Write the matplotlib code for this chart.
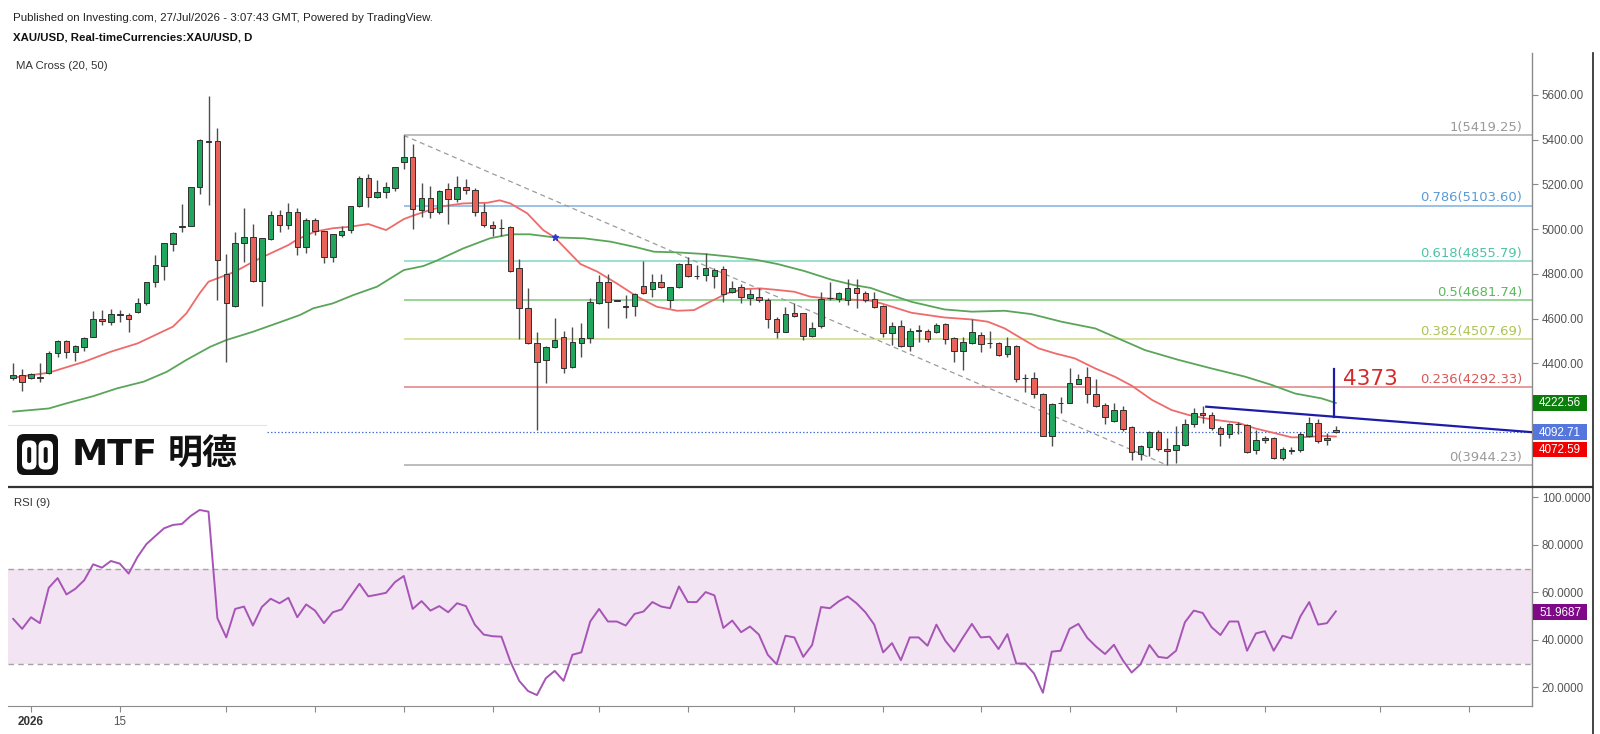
import numpy as np
import matplotlib
matplotlib.use('Agg')
import matplotlib.pyplot as plt
from matplotlib.patches import Rectangle, FancyBboxPatch

# ---------------- data (daily XAU/USD candles, 30 Dec 2025 .. 27 Jul 2026) ----------------
opens = [4333, 4347, 4333, 4338, 4355, 4447, 4501, 4452, 4474, 4519,
         4596, 4586, 4619, 4616, 4629, 4668, 4765, 4837, 4933, 5008,
         5014, 5190, 5396, 5393, 4799, 4656, 4936, 4966, 4769, 4957,
         5063, 5018, 5077, 4918, 5041, 4993, 4877, 4974, 4996, 5103,
         5227, 5145, 5167, 5182, 5300, 5324, 5085, 5138, 5078, 5179,
         5135, 5190, 5175, 5078, 5018, 5006, 5008, 4825, 4649, 4492,
         4414, 4474, 4516, 4385, 4492, 4511, 4671, 4762, 4680, 4656,
         4657, 4747, 4731, 4765, 4683, 4743, 4844, 4790, 4795, 4792,
         4820, 4720, 4743, 4690, 4698, 4683, 4596, 4541, 4626, 4626,
         4522, 4567, 4690, 4686, 4683, 4735, 4716, 4687, 4656, 4534,
         4568, 4477, 4546, 4546, 4541, 4574, 4511, 4456, 4491, 4526,
         4489, 4492, 4441, 4477, 4333, 4333, 4261, 4076, 4221, 4224,
         4307, 4337, 4261, 4213, 4143, 4191, 4116, 3996, 4027, 4094,
         4019, 4012, 4034, 4127, 4179, 4168, 4109, 4082, 4128, 4124,
         4012, 4057, 4064, 3975, 4009, 4012, 4075, 4134, 4055, 4100]
highs = [4403, 4376, 4355, 4403, 4456, 4504, 4504, 4482, 4519, 4634,
         4638, 4644, 4638, 4623, 4690, 4765, 4884, 4937, 4987, 5112,
         5190, 5402, 5595, 5451, 4889, 4989, 5093, 5023, 4959, 5082,
         5085, 5115, 5093, 5048, 5048, 4993, 4978, 5014, 5103, 5239,
         5246, 5220, 5212, 5276, 5419.25, 5379, 5205, 5193, 5175, 5208,
         5238, 5223, 5182, 5115, 5036, 5045, 5014, 4865, 4738, 4541,
         4477, 4604, 4546, 4561, 4581, 4690, 4795, 4799, 4683, 4705,
         4713, 4857, 4799, 4799, 4743, 4847, 4877, 4839, 4892, 4825,
         4835, 4768, 4753, 4732, 4735, 4690, 4608, 4650, 4668, 4626,
         4586, 4720, 4765, 4720, 4775, 4775, 4725, 4717, 4661, 4586,
         4593, 4556, 4571, 4552, 4581, 4579, 4516, 4519, 4596, 4541,
         4544, 4496, 4516, 4482, 4350, 4362, 4265, 4221, 4248, 4377,
         4352, 4385, 4330, 4221, 4221, 4209, 4119, 4034, 4098, 4101,
         4064, 4119, 4149, 4198, 4209, 4183, 4119, 4134, 4139, 4128,
         4101, 4075, 4069, 4027, 4027, 4091, 4161, 4149, 4087, 4119]
lows = [4325, 4277, 4330, 4315, 4350, 4429, 4425, 4412, 4456, 4519,
        4571, 4571, 4586, 4541, 4623, 4661, 4743, 4772, 4904, 4989,
        5014, 5157, 5108, 4683, 4407, 4653, 4854, 4765, 4658, 4951,
        4989, 4999, 4884, 4892, 4975, 4847, 4854, 4963, 4984, 5100,
        5097, 5138, 5138, 5172, 5267, 4999, 5056, 5051, 5066, 5021,
        5120, 5157, 5059, 5008, 4969, 4970, 4810, 4507, 4486, 4101,
        4310, 4467, 4355, 4377, 4426, 4489, 4665, 4556, 4677, 4604,
        4611, 4710, 4698, 4735, 4646, 4735, 4787, 4775, 4768, 4738,
        4675, 4713, 4668, 4663, 4675, 4556, 4511, 4541, 4608, 4504,
        4519, 4556, 4683, 4675, 4660, 4646, 4672, 4646, 4516, 4482,
        4471, 4456, 4496, 4496, 4537, 4486, 4407, 4370, 4486, 4449,
        4467, 4432, 4426, 4315, 4273, 4243, 4075, 4030, 4176, 4224,
        4307, 4224, 4206, 4127, 4139, 4098, 3967, 3967, 3985, 4009,
        3944.23, 3955, 4030, 4116, 4134, 4101, 4030, 4064, 4083, 4000,
        3994, 4042, 3970, 3967, 3994, 4005, 4069, 4045, 4034, 4090]
closes = [4347, 4318, 4350, 4335, 4447, 4501, 4452, 4477, 4511, 4596,
          4588, 4620, 4615, 4596, 4668, 4765, 4840, 4937, 4984, 5015,
          5190, 5399, 5390, 4862, 4668, 4939, 4966, 4766, 4959, 5063,
          5018, 5078, 4921, 5041, 4990, 4877, 4978, 4993, 5103, 5227,
          5145, 5167, 5187, 5276, 5324, 5088, 5138, 5078, 5170, 5135,
          5190, 5175, 5078, 5018, 5003, 5004, 4814, 4649, 4489, 4407,
          4474, 4504, 4380, 4497, 4511, 4675, 4762, 4675, 4681, 4650,
          4708, 4716, 4765, 4743, 4743, 4844, 4790, 4791, 4828, 4817,
          4710, 4735, 4695, 4710, 4683, 4596, 4541, 4620, 4613, 4522,
          4556, 4687, 4691, 4716, 4735, 4716, 4683, 4653, 4537, 4567,
          4477, 4546, 4547, 4507, 4571, 4508, 4456, 4496, 4541, 4486,
          4490, 4437, 4477, 4330, 4334, 4262, 4076, 4218, 4222, 4313,
          4332, 4261, 4210, 4161, 4191, 4104, 4005, 4030, 4094, 4019,
          4009, 4034, 4127, 4179, 4169, 4109, 4082, 4127, 4129, 4005,
          4057, 4067, 3975, 4019, 4010, 4082, 4134, 4054, 4064, 4092.71]

# moving averages (bar index, value)
ma20_x = [0, 4, 8, 11, 14, 18, 19.5, 21, 22, 23, 25, 27, 29, 31, 32, 34, 36, 38, 40, 42, 44, 45,
          46.5, 48.5, 50.7, 53.4, 54.8, 56, 57.9, 59.7, 61, 63.9, 65.8, 68, 70.3, 72.5, 74.8,
          76.7, 78.5, 80.4, 82.3, 84.2, 86.1, 88, 89.8, 91.7, 93.6, 96.6, 97.8, 101.2, 104.9,
          108, 109.8, 111.7, 113.6, 115.5, 117.4, 119.6, 121.9, 124.1, 126, 128.3, 130.5,
          132.4, 134.3, 136.2, 138, 139.9, 142.2, 144, 145.2, 147.4, 149]
ma20_v = [4336, 4358, 4407, 4452, 4489, 4564, 4623, 4713, 4765, 4780, 4810, 4854, 4892, 4929, 4954,
          4989, 5004, 5011, 5023, 4996, 5045, 5060, 5080, 5103, 5115, 5118, 5129, 5115, 5071, 4996,
          4963, 4844, 4810, 4757, 4698, 4653, 4635, 4638, 4675, 4713, 4732, 4735, 4728, 4720, 4698,
          4690, 4687, 4680, 4668, 4626, 4605, 4596, 4586, 4556, 4511, 4467, 4444, 4422, 4377, 4340,
          4300, 4236, 4191, 4169, 4154, 4143, 4134, 4109, 4087, 4069, 4069, 4075, 4072.59]
ma50_x = [0, 4, 6, 9, 11.7, 14.7, 17.3, 19.5, 22.2, 24, 27, 29.7, 32.3, 33.8, 36, 38.3, 41, 44,
          46.2, 47.7, 50.7, 53.7, 56, 58.2, 61, 64.3, 67.3, 70.3, 72.2, 74.8, 77.8, 80.8, 83.8,
          86.1, 89.1, 92.1, 94.7, 96.6, 97.8, 101.2, 104.9, 108, 111.7, 114.7, 118.1, 121.9,
          124.9, 127.5, 131.3, 135, 138.8, 141.8, 144.4, 147.4, 149]
ma50_v = [4184, 4198, 4221, 4253, 4288, 4318, 4362, 4415, 4474, 4504, 4541, 4579, 4616, 4646, 4668,
          4705, 4743, 4817, 4835, 4859, 4914, 4959, 4977, 4977, 4963, 4959, 4944, 4918, 4899, 4896,
          4889, 4877, 4862, 4844, 4813, 4775, 4750, 4737, 4720, 4675, 4641, 4631, 4635, 4620, 4586,
          4556, 4504, 4459, 4415, 4377, 4340, 4303, 4265, 4243, 4222.56]

rsi = [48.8, 44.6, 49.5, 47.0, 61.9, 66.0, 59.1, 61.5, 65.1, 71.8,
       70.4, 73.2, 72.1, 67.9, 74.9, 80.3, 83.7, 87.0, 88.4, 88.8,
       92.2, 94.7, 94.0, 49.1, 41.0, 53.0, 54.0, 46.0, 53.8, 57.3,
       55.4, 57.7, 49.5, 54.9, 52.3, 47.0, 51.6, 52.8, 58.3, 63.6,
       58.3, 59.0, 59.8, 64.3, 66.9, 53.0, 56.3, 52.3, 54.2, 51.6,
       55.4, 54.2, 46.4, 42.2, 41.5, 41.3, 30.9, 22.7, 18.4, 16.7,
       23.8, 26.9, 22.7, 33.7, 34.7, 47.7, 53.0, 47.7, 47.7, 46.0,
       50.9, 51.9, 55.9, 54.0, 53.3, 62.5, 55.9, 55.9, 60.1, 58.7,
       45.0, 48.1, 43.2, 45.6, 42.2, 33.7, 29.7, 41.7, 41.0, 32.8,
       37.8, 53.8, 53.3, 56.2, 58.3, 55.4, 51.6, 46.4, 34.7, 38.6,
       31.4, 41.0, 41.0, 37.5, 46.4, 39.6, 35.0, 41.0, 46.7, 41.0,
       41.3, 36.1, 42.4, 30.0, 30.0, 25.8, 17.7, 35.0, 35.4, 44.6,
       46.7, 40.8, 37.1, 34.0, 37.9, 31.4, 26.2, 29.7, 37.8, 32.8,
       32.3, 35.4, 47.4, 52.3, 51.3, 45.3, 42.0, 47.7, 47.7, 35.4,
       42.7, 43.6, 35.4, 41.7, 40.6, 49.8, 55.9, 46.4, 47.0, 51.9687]

fib_ratios = ['1', '0.786', '0.618', '0.5', '0.382', '0.236', '0']
fib_values = [5419.25, 5103.60, 4855.79, 4681.74, 4507.69, 4292.33, 3944.23]
fib_line_colors = ['#ababab', '#7fb2e0', '#7fd8c2', '#7cc97c', '#cddc82', '#e08080', '#ababab']
fib_text_colors = ['#9a9a9a', '#5b9bd5', '#4fc2a6', '#5cb85c', '#abc454', '#d85757', '#9a9a9a']
fib_start_bar = 44
swing_high = (44, 5419.25)
swing_low = (130, 3944.23)

trend_pts = [(134.4, 4206.0), (171.1, 4092.0)]
target_bar, target_low, target_high = 148.8, 4161.0, 4373.0
target_label = '4373'
cross_bar, cross_val = 61, 4963

last_price = 4092.71
ma50_last, ma20_last, rsi_last = 4222.56, 4072.59, 51.9687

tick_bars = [2, 12, 24, 34, 44, 54, 66, 76, 88, 98, 109, 119, 131, 141, 154, 164]
tick_labels = ['2026', '15'] + [''] * 14
price_ticks = [4000, 4200, 4400, 4600, 4800, 5000, 5200, 5400, 5600]
hidden_price_labels = [4000, 4200]   # covered by the value boxes in the reference
rsi_ticks = [20, 40, 60, 80, 100]

# ---------------- figure layout (pixel based) ----------------
plt.rcParams['font.family'] = ['Liberation Sans', 'DejaVu Sans']
W, H = 1600, 734
fig = plt.figure(figsize=(16, 7.34), dpi=100)
fig.patch.set_facecolor('white')

def fx(px):
    return px / W

def fy(py):
    return 1 - py / H

XL, XR = 8, 1532
TOP, MID, BOT = 53, 486, 706
ax = fig.add_axes([fx(XL), fy(MID), fx(XR - XL), fy(TOP) - fy(MID)])
ax2 = fig.add_axes([fx(XL), fy(BOT), fx(XR - XL), fy(MID) - fy(BOT)])

xlim = (-0.59, 171.1)
for a in (ax, ax2):
    a.set_xlim(*xlim)
    a.set_facecolor('none')
    for s in ('top', 'left', 'bottom'):
        a.spines[s].set_visible(False)
    a.spines['right'].set_color('#8a8a8a')
    a.spines['right'].set_linewidth(1.0)
ax2.spines['bottom'].set_visible(True)
ax2.spines['bottom'].set_color('#8a8a8a')

ax.set_ylim(3851.3, 5787.8)
ax2.set_ylim(12.1, 104.8)

# ---------------- price pane ----------------
o = np.array(opens, float); h = np.array(highs, float)
l = np.array(lows, float); c = np.array(closes, float)
x = np.arange(len(c))
GREEN, RED = '#22a65e', '#e8625a'
cols = np.where(c >= o, GREEN, RED)

for r, v, lc, tc in zip(fib_ratios, fib_values, fib_line_colors, fib_text_colors):
    ax.plot([fib_start_bar, xlim[1]], [v, v], color=lc, lw=1.1, zorder=1, solid_capstyle='butt')

ax.plot([swing_high[0], swing_low[0]], [swing_high[1], swing_low[1]], color='#9c9c9c',
        lw=0.9, ls=(0, (4, 3)), zorder=1)
ax.axhline(last_price, color='#4a72d6', lw=0.9, ls=(0, (1.2, 1.6)), zorder=1)

ax.plot(ma50_x, ma50_v, color='#5aa55a', lw=1.3, zorder=2)
ax.plot(ma20_x, ma20_v, color='#ee6b6b', lw=1.3, zorder=2)
ax.plot([cross_bar], [cross_val], marker='*', color='#3535c8', ms=5, zorder=5)

ax.vlines(x, l, h, color='#4d4d4d', lw=1.0, zorder=3)
bottoms = np.minimum(o, c)
heights = np.maximum(np.abs(c - o), 2.5)
ax.bar(x, heights, width=0.62, bottom=bottoms, color=cols, edgecolor='#303030',
       linewidth=0.7, zorder=4)

ax.plot([p[0] for p in trend_pts], [p[1] for p in trend_pts], color='#1c1ca8', lw=1.6, zorder=5)
ax.plot([target_bar, target_bar], [target_low, target_high], color='#1c1ca8', lw=1.6, zorder=5)

ax.set_xticks([])
ax.yaxis.tick_right()
ax.set_yticks(price_ticks)
ax.set_yticklabels(['' if t in hidden_price_labels else f'{t:.2f}' for t in price_ticks])
ax.tick_params(axis='y', direction='out', length=4, width=0.8, color='#8a8a8a',
               labelcolor='#555555', labelsize=8.4, pad=3)

# ---------------- RSI pane ----------------
ax2.axhspan(30, 70, color='#f2e4f2', zorder=0, lw=0)
for lev in (30, 70):
    ax2.axhline(lev, color='#a9a0aa', lw=1.0, ls=(0, (4, 3)), zorder=1)
ax2.plot(x, rsi, color='#a655b6', lw=1.4, zorder=3)
ax2.yaxis.tick_right()
ax2.set_yticks(rsi_ticks)
ax2.set_yticklabels([f'{t:.4f}' for t in rsi_ticks])
ax2.tick_params(axis='y', direction='out', length=4, width=0.8, color='#8a8a8a',
                labelcolor='#555555', labelsize=8.4, pad=3)
ax2.set_xticks(tick_bars)
ax2.set_xticklabels(tick_labels)
ax2.tick_params(axis='x', direction='out', length=4, width=0.8, color='#8a8a8a',
                labelcolor='#555555', labelsize=8.4, pad=3)
lbls = ax2.get_xticklabels()
lbls[0].set_fontweight('bold'); lbls[0].set_color('#333333')

# ---------------- overlay in pixel coordinates ----------------
ov = fig.add_axes([0, 0, 1, 1])
ov.set_xlim(0, W); ov.set_ylim(H, 0); ov.axis('off'); ov.set_zorder(10)
ov.patch.set_alpha(0)
renderer = fig.canvas.get_renderer()

def fit_text(xp, yp, s, width, size=9, **kw):
    t = ov.text(xp, yp, s, fontsize=size, **kw)
    bb = t.get_window_extent(renderer=renderer)
    t.set_fontsize(size * width / bb.width)
    return t

def py_of(price):
    disp = ax.transData.transform((0, price))
    return H - disp[1] * (H / fig.bbox.height)

fib_size = None
for r, v, tc in zip(fib_ratios, fib_values, fib_text_colors):
    s = f'{r}({v:.2f})'
    if fib_size is None:
        t = fit_text(1522, py_of(v) - 1.5, '0.786(5103.60)', 102, size=9.5, family='DejaVu Sans')
        fib_size = t.get_fontsize(); t.remove()
    ov.text(1522, py_of(v) - 1.5, s, fontsize=fib_size, family='DejaVu Sans', color=tc,
            ha='right', va='bottom')

fit_text(1343, py_of(4330), target_label, 55, size=17, color='#d42a2a', ha='left', va='center',
         family='DejaVu Sans')

fit_text(13, 18, 'Published on Investing.com, 27/Jul/2026 - 3:07:43 GMT, Powered by TradingView.',
         418, size=8, color='#222222', va='center')
fit_text(13, 38, 'XAU/USD, Real-timeCurrencies:XAU/USD, D', 239, size=8, color='#111111',
         va='center', fontweight='bold')
fit_text(16, 66, 'MA Cross (20, 50)', 92, size=8, color='#333333', va='center')
fit_text(14, 503, 'RSI (9)', 36, size=8, color='#333333', va='center')

def value_box(ytop, ybot, s, color):
    ov.add_patch(Rectangle((1533, ytop), 54, ybot - ytop, facecolor=color, edgecolor='none'))
    ov.text(1560, (ytop + ybot) / 2 + 0.5, s, color='white', fontsize=8.4, ha='center', va='center')

value_box(395, 411, f'{ma50_last:.2f}', '#0b7d0b')
value_box(424, 440, f'{last_price:.2f}', '#5577dd')
value_box(442, 457, f'{ma20_last:.2f}', '#f00000')
value_box(604, 620, f'{rsi_last:.4f}', '#7e0a88')

ov.plot([XL, 1593], [486.5, 486.5], color='#333333', lw=1.6, solid_capstyle='butt')
ov.plot([1593, 1593], [TOP, H], color='#222222', lw=1.2)

# logo block (white pasted box)
ov.add_patch(Rectangle((XL, 425), 258, 59, facecolor='white', edgecolor='none'))
ov.plot([XL, 266], [425, 425], color='#e4e4e4', lw=0.8)
ov.add_patch(FancyBboxPatch((17, 434), 41, 41, boxstyle='round,pad=0,rounding_size=7',
                            facecolor='#111111', edgecolor='none'))
for x0 in (22, 38.5):
    ov.add_patch(FancyBboxPatch((x0, 440.5), 14.5, 29, boxstyle='round,pad=0,rounding_size=6',
                                facecolor='white', edgecolor='none'))
    ov.add_patch(FancyBboxPatch((x0 + 5.2, 447), 4, 16, boxstyle='round,pad=0,rounding_size=2',
                                facecolor='#111111', edgecolor='none'))
fit_text(72, 455, 'MTF', 86, size=24, family='DejaVu Sans', fontweight='bold',
         color='#111111', va='center')
fit_text(168, 454, '明德', 70, size=25, family=['Noto Sans CJK SC', 'DejaVu Sans'],
         fontweight='bold', color='#111111', va='center')

fig.savefig('out.png', dpi=100)
